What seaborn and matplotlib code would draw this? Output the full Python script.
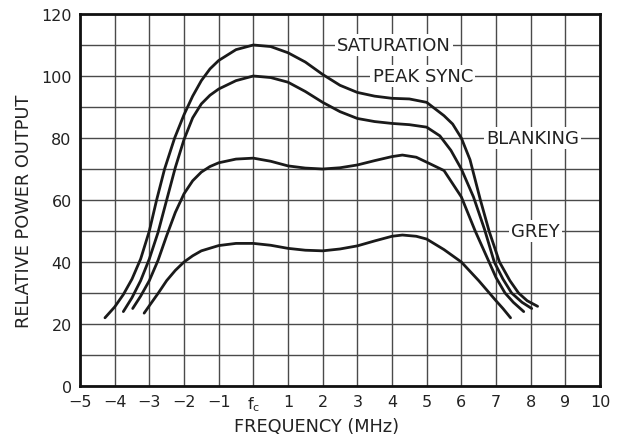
import matplotlib
matplotlib.use("Agg")
import matplotlib.pyplot as plt
import seaborn as sns
import pandas as pd

# Relative power output versus frequency offset from the carrier (MHz)
sat_x = [-4.28, -4.0, -3.75, -3.5, -3.25, -3.0, -2.79, -2.56, -2.27, -2.0, -1.75, -1.5,
         -1.25, -1.0, -0.5, 0.0, 0.5, 1.0, 1.5, 2.0, 2.5, 3.0, 3.5, 4.0, 4.5, 5.0, 5.5, 5.75,
         6.0, 6.25, 6.55, 6.8, 7.1, 7.4, 7.65, 7.9, 8.2]
sat_y = [22, 25.5, 29.5, 34.5, 41, 50, 60, 70, 80, 87.5, 93.5, 98.5,
         102.3, 105, 108.5, 110, 109.5, 107.5, 104.5, 100.5, 97, 94.7, 93.5, 92.8, 92.6, 91.5, 87.2, 84.5,
         80, 73, 60, 50, 40, 34, 30, 27.5, 25.7]

sync_x = [-3.75, -3.5, -3.25, -3.0, -2.75, -2.5, -2.25, -2.0, -1.75, -1.5, -1.25, -1.0, -0.5,
          0.0, 0.5, 1.0, 1.5, 2.0, 2.5, 3.0, 3.5, 4.0, 4.5, 5.0, 5.38, 5.7, 6.0,
          6.35, 6.67, 6.95, 7.2, 7.45, 7.75, 8.03]
sync_y = [24, 28.5, 34, 41, 49.5, 60, 70.5, 79.5, 86.5, 91, 93.8, 95.8, 98.5,
          100, 99.5, 98, 95, 91.5, 88.5, 86.3, 85.3, 84.7, 84.3, 83.5, 80.7, 76, 70,
          61, 50.5, 40, 34.5, 30, 27, 25]

blank_x = [-3.48, -3.25, -3.0, -2.75, -2.5, -2.25, -2.0, -1.75, -1.5, -1.25, -1.0, -0.5,
           0.0, 0.5, 1.0, 1.5, 2.0, 2.5, 3.0, 3.5, 4.0, 4.3, 4.7, 5.0, 5.5, 6.0,
           6.4, 6.8, 7.0, 7.26, 7.5, 7.8]
blank_y = [25, 29, 34, 40.5, 48.5, 56, 62, 66.2, 69, 70.8, 72, 73.2,
           73.5, 72.5, 71, 70.3, 70, 70.4, 71.3, 72.7, 74, 74.5, 73.8, 72.2, 69.5, 61,
           50, 40, 35, 30, 27, 24]

grey_x = [-3.15, -3.0, -2.74, -2.5, -2.25, -2.0, -1.75, -1.5, -1.0, -0.5, 0.0, 0.5,
          1.0, 1.5, 2.0, 2.5, 3.0, 3.5, 4.0, 4.3, 4.7, 5.0, 5.5, 6.0, 6.5, 7.0, 7.2, 7.42]
grey_y = [23.5, 25.9, 30, 34, 37.3, 40, 42, 43.6, 45.3, 46, 46, 45.4,
          44.4, 43.8, 43.6, 44.2, 45.2, 46.8, 48.3, 48.7, 48.3, 47.4, 44, 40, 34, 27.5, 25, 22]

curve_names = ["SATURATION", "PEAK SYNC", "BLANKING", "GREY"]
label_x = [4.06, 4.89, 8.05, 8.13]
label_y = [110, 100, 80, 50]

x_ticks = list(range(-5, 11))
x_tick_labels = ["\u22125", "\u22124", "\u22123", "\u22122", "\u22121", r"f$_\mathregular{c}$",
                 "1", "2", "3", "4", "5", "6", "7", "8", "9", "10"]
y_ticks = [0, 20, 40, 60, 80, 100, 120]

frames = []
for name, xs, ys in zip(curve_names, [sat_x, sync_x, blank_x, grey_x],
                        [sat_y, sync_y, blank_y, grey_y]):
    frames.append(pd.DataFrame({"freq": xs, "power": ys, "curve": name}))
df = pd.concat(frames, ignore_index=True)

sns.set_style("white")
plt.rcParams["font.family"] = ["DejaVu Sans"]

fig = plt.figure(figsize=(6.23, 4.35), dpi=100)
ax = fig.add_axes([80 / 623, 1 - 387 / 435, 520 / 623, 372 / 435])

sns.lineplot(data=df, x="freq", y="power", hue="curve", sort=False,
             palette=["#1a1a1a"] * 4, linewidth=2.0, legend=False, ax=ax,
             estimator=None, zorder=3)
for ln in ax.lines:
    ln.set_solid_joinstyle("round")
    ln.set_solid_capstyle("round")

ax.set_xlim(-5, 10)
ax.set_ylim(0, 120)
ax.set_xticks(x_ticks)
ax.set_xticklabels(x_tick_labels)
ax.set_yticks(y_ticks)
ax.set_xticks(range(-5, 11), minor=True)
ax.set_yticks(range(0, 121, 10), minor=True)
ax.grid(True, which="both", color="#4a4a4a", linewidth=1.0)
ax.set_axisbelow(True)
ax.tick_params(which="both", length=0, labelsize=11.5, colors="#222222", pad=6)
for s in ax.spines.values():
    s.set_color("#111111")
    s.set_linewidth(2.0)

for name, lx, ly in zip(curve_names, label_x, label_y):
    ax.text(lx, ly, name, ha="center", va="center", fontsize=13, color="#222222",
            zorder=4, bbox=dict(facecolor="white", edgecolor="none", pad=1.5))

ax.set_xlabel("")
ax.set_ylabel("")
fig.text(317 / 623, 1 - 427 / 435, "FREQUENCY (MHz)", ha="center", va="center",
         fontsize=12.8, color="#222222")
fig.text(24 / 623, 1 - 211 / 435, "RELATIVE POWER OUTPUT", ha="center", va="center",
         rotation=90, fontsize=12.8, color="#222222")

fig.savefig("out.png", dpi=100, facecolor="white")
